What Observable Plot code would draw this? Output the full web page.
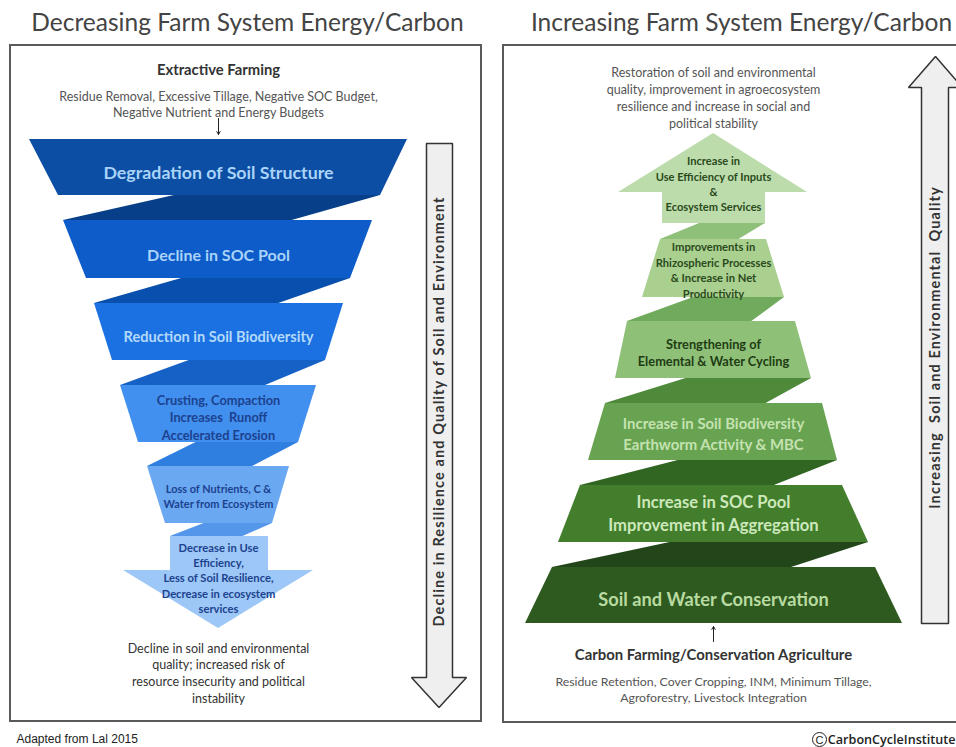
<!DOCTYPE html>
<html><head><meta charset="utf-8">
<script src="https://cdn.jsdelivr.net/npm/d3@7"></script>
<script src="https://cdn.jsdelivr.net/npm/@observablehq/plot@0.6"></script>
<style>html,body{margin:0;padding:0;background:#fff;overflow:hidden}svg{overflow:hidden;display:block}</style>
</head><body><div id="chart"></div>
<script>
// ---------- DATA (texts of the diagram) ----------
const panelTitles = ["Decreasing Farm System Energy/Carbon", "Increasing Farm System Energy/Carbon"];
const leftStages = [
  "Degradation of Soil Structure",
  "Decline in SOC Pool",
  "Reduction in Soil Biodiversity",
  "Crusting, Compaction\nIncreases  Runoff\nAccelerated Erosion",
  "Loss of Nutrients, C &\nWater from Ecosystem",
  "Decrease in Use\nEfficiency,\nLess of Soil Resilience,\nDecrease in ecosystem\nservices"
];
const rightStages = [ // bottom to top
  "Soil and Water Conservation",
  "Increase in SOC Pool\nImprovement in Aggregation",
  "Increase in Soil Biodiversity\nEarthworm Activity & MBC",
  "Strengthening of\nElemental & Water Cycling",
  "Improvements in\nRhizospheric Processes\n& Increase in Net\nProductivity",
  "Increase in\nUse Efficiency of Inputs\n&\nEcosystem Services"
];
const leftInput = "Extractive Farming";
const leftInputDetail = "Residue Removal, Excessive Tillage, Negative SOC Budget,\nNegative Nutrient and Energy Budgets";
const leftOutcome = "Decline in soil and environmental\nquality; increased risk of\nresource insecurity and political\ninstability";
const leftAxisLabel = "Decline in Resilience and Quality of Soil and Environment";
const rightInput = "Carbon Farming/Conservation Agriculture";
const rightInputDetail = "Residue Retention, Cover Cropping, INM, Minimum Tillage,\nAgroforestry, Livestock Integration";
const rightOutcome = "Restoration of soil and environmental\nquality, improvement in agroecosystem\nresilience and increase in social and\npolitical stability";
const rightAxisLabel = "Increasing  Soil and Environmental  Quality";
const sourceNote = "Adapted from Lal 2015";
const creditNote = "CarbonCycleInstitute";

// ---------- STYLES ----------
const leftFills = ["#0b4ea4", "#0d5cc9", "#1b71e2", "#418fee", "#6aa8f2", "#9dc7f6"];
const leftLinks = ["#073f88", "#094fae", "#1561c6", "#2f7fe0", "#5497ea"];
const leftInk   = ["#a9d3f8", "#a9d3f8", "#b3d9fa", "#1c428f", "#1c428f", "#1c428f"];
const leftSizes = [17.8, 16, 14.6, 12.8, 10.9, 11.2];
const rightFills = ["#2e5a1f", "#427e2b", "#68a351", "#8ec078", "#a9d08f", "#bcdcab"];
const rightLinks = ["#22461a", "#306522", "#4f8a3b", "#70aa5c", "#8fc07a"];
const rightInk   = ["#b8daa1", "#cde8bb", "#c4e2b0", "#1f3c13", "#2b4a1c", "#2b4a1c"];
const rightSizes = [18.2, 16.6, 14.9, 12.8, 11.2, 11.1];

// ---------- LAYOUT (pixel geometry of the diagram) ----------
const W = 956, H = 747;
const leftGeom = [ // y0 top, y1 bottom, a/b = left/right at top (0) and bottom (1)
  {y0:139, y1:195, a0:29,  b0:407, a1:58,  b1:380, ty:171},
  {y0:220, y1:278, a0:63,  b0:372, a1:86,  b1:350, ty:253},
  {y0:303, y1:360, a0:94,  b0:343, a1:112, b1:325, ty:335},
  {y0:385, y1:442, a0:120, b0:316, a1:138, b1:298, ty:416},
  {y0:466, y1:523, a0:147, b0:289, a1:165, b1:272, ty:495}
];
const leftArrow = {cx:218, stemTop:536, stemL:170, stemR:268, headY:570, headL:123, headR:313, tipY:628, ty:577};
const rightGeom = [ // bottom to top
  {y0:567, y1:623, a0:552, b0:875, a1:525, b1:902, ty:597},
  {y0:485, y1:542, a0:580, b0:842, a1:558, b1:868, ty:512},
  {y0:403, y1:460, a0:605, b0:822, a1:588, b1:837, ty:432.5},
  {y0:321, y1:378, a0:627, b0:795, a1:615, b1:811, ty:351.5},
  {y0:239, y1:297, a0:660, b0:766, a1:642, b1:784, ty:269}
];
const rightArrow = {cx:713, tipY:133, headY:192, headL:618, headR:807, stemL:662, stemR:765, stemBot:223, ty:183};
const boxes = [{x1:10, x2:481, y1:45, y2:721}, {x1:503, x2:975, y1:45, y2:722}];
const linkFrom = 0.36, linkTo = 0.74;

// ---------- BUILD SHAPES ----------
const shapes = [];
function edgeLink(id, up, lo, fill) {
  shapes.push({id, y:up.y, x1:up.a + linkFrom*(up.b-up.a), x2:up.b, fill});
  shapes.push({id, y:lo.y, x1:lo.a, x2:lo.a + linkTo*(lo.b-lo.a), fill});
}
leftGeom.forEach((g,i) => {
  shapes.push({id:"L"+i, y:g.y0, x1:g.a0, x2:g.b0, fill:leftFills[i]});
  shapes.push({id:"L"+i, y:g.y1, x1:g.a1, x2:g.b1, fill:leftFills[i]});
});
const la = leftArrow;
[[la.stemTop, la.stemL, la.stemR],[la.headY, la.stemL, la.stemR],[la.headY, la.headL, la.headR],[la.tipY, la.cx, la.cx]]
  .forEach(([y,x1,x2]) => shapes.push({id:"L5", y, x1, x2, fill:leftFills[5]}));
for (let i = 0; i < 5; i++) {
  const g = leftGeom[i];
  const up = {y:g.y1, a:g.a1, b:g.b1};
  const lo = i < 4 ? {y:leftGeom[i+1].y0, a:leftGeom[i+1].a0, b:leftGeom[i+1].b0} : {y:la.stemTop, a:la.stemL, b:la.stemR};
  edgeLink("LC"+i, up, lo, leftLinks[i]);
}
rightGeom.forEach((g,i) => {
  shapes.push({id:"R"+i, y:g.y0, x1:g.a0, x2:g.b0, fill:rightFills[i]});
  shapes.push({id:"R"+i, y:g.y1, x1:g.a1, x2:g.b1, fill:rightFills[i]});
});
const ra = rightArrow;
[[ra.tipY, ra.cx, ra.cx],[ra.headY, ra.headL, ra.headR],[ra.headY, ra.stemL, ra.stemR],[ra.stemBot, ra.stemL, ra.stemR]]
  .forEach(([y,x1,x2]) => shapes.push({id:"R5", y, x1, x2, fill:rightFills[5]}));
for (let i = 0; i < 5; i++) {
  const lower = rightGeom[i];
  const lo = {y:lower.y0, a:lower.a0, b:lower.b0};
  const up = i < 4 ? {y:rightGeom[i+1].y1, a:rightGeom[i+1].a1, b:rightGeom[i+1].b1} : {y:ra.stemBot, a:ra.stemL, b:ra.stemR};
  edgeLink("RC"+i, up, lo, rightLinks[i]);
}

const sideArrows = [];
[[426,143],[452,143],[452,677],[466,677],[438.5,707],[411,677],[426,677],[426,143]]
  .forEach(([x,y]) => sideArrows.push({id:"down", x, y}));
[[921,623],[921,87],[908,87],[935,56],[962,87],[948,87],[948,623],[921,623]]
  .forEach(([x,y]) => sideArrows.push({id:"up", x, y}));

const pointers = [{x1:218, y1:118, x2:218, y2:134}, {x1:713, y1:641, x2:713, y2:626}];

const stageLabels = [];
leftStages.forEach((t,i) => stageLabels.push({x:218, y: i<5 ? leftGeom[i].ty : la.ty, text:t, size:leftSizes[i], fill:leftInk[i]}));
rightStages.forEach((t,i) => stageLabels.push({x:713, y: i<5 ? rightGeom[i].ty : ra.ty, text:t, size:rightSizes[i], fill:rightInk[i]}));

const bodyFont = "Lato, 'Open Sans', sans-serif";

const chart = Plot.plot({
  width: W, height: H,
  margin: 0,
  x: {domain:[0,W], range:[0,W], axis:null},
  y: {domain:[0,H], range:[0,H], axis:null},
  color: {type:"identity"},
  style: {fontFamily: bodyFont, background:"#fff", overflow:"hidden"},
  marks: [
    Plot.rect(boxes, {x1:"x1", x2:"x2", y1:"y1", y2:"y2", fill:"#fff", stroke:"#5a5a5a", strokeWidth:2}),
    Plot.areaX(shapes, {y:"y", x1:"x1", x2:"x2", z:"id", fill:"fill"}),
    Plot.line(sideArrows, {x:"x", y:"y", z:"id", fill:"#efefef", stroke:"#333", strokeWidth:1.5, strokeLinejoin:"miter"}),
    Plot.arrow(pointers, {x1:"x1", y1:"y1", x2:"x2", y2:"y2", stroke:"#222", strokeWidth:1, headLength:5}),
    Plot.text(panelTitles, {x:(d,i)=> i===0 ? 247 : 741, y:()=>23, text:d=>d, fontSize:24.5, fill:"#444", fontFamily:"Lato, sans-serif"}),
    Plot.text(stageLabels, {x:"x", y:"y", text:"text", fontSize:"size", fill:"fill", fontWeight:"bold", lineHeight:1.38}),
    Plot.text([leftInput], {x:()=>218, y:()=>70, text:d=>d, fontSize:14.8, fontWeight:"bold", fill:"#333"}),
    Plot.text([leftInputDetail], {x:()=>218, y:()=>103, text:d=>d, fontSize:12.5, fill:"#555", lineHeight:1.3}),
    Plot.text([leftOutcome], {x:()=>218, y:()=>672, text:d=>d, fontSize:12.5, fill:"#333", lineHeight:1.35}),
    Plot.text([rightOutcome], {x:()=>713, y:()=>96.5, text:d=>d, fontSize:12.5, fill:"#555", lineHeight:1.37}),
    Plot.text([rightInput], {x:()=>713, y:()=>655, text:d=>d, fontSize:14.9, fontWeight:"bold", fill:"#333"}),
    Plot.text([rightInputDetail], {x:()=>713, y:()=>688, text:d=>d, fontSize:12.3, fill:"#555", lineHeight:1.33}),
    Plot.text([leftAxisLabel], {x:()=>439, y:()=>411, text:d=>d, rotate:-90, fontSize:14.5, fontWeight:"bold", fill:"#333"}),
    Plot.text([rightAxisLabel], {x:()=>935, y:()=>347, text:d=>d, rotate:-90, fontSize:14.5, fontWeight:"bold", fill:"#333"}),
    Plot.text([sourceNote], {x:()=>16, y:()=>739, text:d=>d, textAnchor:"start", fontSize:12, fill:"#222", fontFamily:"'Liberation Sans', Arial, sans-serif"}),
    Plot.dot([creditNote], {x:()=>819, y:()=>739, r:7, stroke:"#222", strokeWidth:1, fill:"none"}),
    Plot.text([creditNote], {x:()=>819, y:()=>739.5, text:()=>"C", fontSize:11, fill:"#222", fontFamily:"'Liberation Sans', Arial, sans-serif"}),
    Plot.text([creditNote], {x:()=>955, y:()=>739, text:d=>d, textAnchor:"end", fontSize:12.6, fontWeight:600, fill:"#222", fontFamily:"'Open Sans', sans-serif"})
  ]
});
// widen the tracking of the two vertical side labels, as in the reference
d3.select(chart).selectAll("text").filter(function() {
  return this.textContent === leftAxisLabel || this.textContent === rightAxisLabel;
}).style("letter-spacing", "1.1px");
document.getElementById("chart").appendChild(chart);
</script>
</body></html>
